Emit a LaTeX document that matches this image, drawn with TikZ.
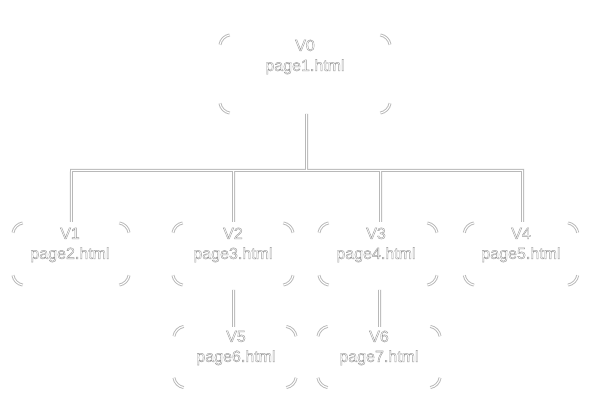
\documentclass[tikz,border=0pt]{standalone}
\usepackage{fontspec}
\setmainfont{Liberation Sans}
\newcommand\outl[1]{\special{pdf:code 1 Tr 0.3 w}#1\special{pdf:code 0 Tr}}
\tikzset{
  box/.style={minimum height=46.5pt, inner sep=0pt},
  lab/.style={align=center, font=\fontsize{12pt}{15pt}\selectfont, text=black!40, inner sep=0pt},
  lineout/.style={draw=black!28, line width=2.2pt},
  linein/.style={draw=white, line width=0.8pt},
  conout/.style={draw=black!28, line width=2.25pt},
  conin/.style={draw=white, line width=0.75pt},
}
\newcommand\corners[1]{%
  \foreach \s in {lineout,linein}{%
    \draw[\s] ([shift={(9pt,-9pt)}]#1.north west) ++(170:9pt) arc[start angle=170,end angle=100,radius=9pt];
    \draw[\s] ([shift={(-9pt,-9pt)}]#1.north east) ++(80:9pt) arc[start angle=80,end angle=10,radius=9pt];
    \draw[\s] ([shift={(-9pt,9pt)}]#1.south east) ++(-10:9pt) arc[start angle=-10,end angle=-80,radius=9pt];
    \draw[\s] ([shift={(9pt,9pt)}]#1.south west) ++(190:9pt) arc[start angle=190,end angle=260,radius=9pt];
  }%
}
\begin{document}
\begin{tikzpicture}[x=0.75pt,y=-0.75pt]
\useasboundingbox[fill=white] (0,0) rectangle (590,409);
\node[box, minimum width=127.5pt, minimum height=58.5pt] (root) at (305,74) {};
\node[box, minimum width=87pt] (v1) at (71,254) {};
\node[box, minimum width=90pt] (v2) at (233,254) {};
\node[box, minimum width=88.5pt] (v3) at (378,254) {};
\node[box, minimum width=85pt] (v4) at (521,254) {};
\node[box, minimum width=91.5pt, minimum height=45.75pt] (v5) at (235,357) {};
\node[box, minimum width=91.5pt, minimum height=45.75pt] (v6) at (379,357) {};
\node[lab] (troot) at (305,57) {\outl{V0}\\\outl{page1.html}};
\node[lab] (t1) at (70,245) {\outl{V1}\\\outl{page2.html}};
\node[lab] (t2) at (233,245) {\outl{V2}\\\outl{page3.html}};
\node[lab] (t3) at (376,245) {\outl{V3}\\\outl{page4.html}};
\node[lab] (t4) at (521,245) {\outl{V4}\\\outl{page5.html}};
\node[lab] (t5) at (236,348) {\outl{V5}\\\outl{page6.html}};
\node[lab] (t6) at (379,348) {\outl{V6}\\\outl{page7.html}};
\coordinate (rb) at (306.5,114);
\coordinate (junc) at (306.52,170.5);
\coordinate (b1) at (71.5,170.5);
\coordinate (b2) at (233.52,170.5);
\coordinate (b3) at (380.52,170.5);
\coordinate (b4) at (522.5,170.5);
\coordinate (e1) at (71.48,222);
\coordinate (e2) at (233.5,222);
\coordinate (e3) at (380.5,222);
\coordinate (e4) at (522.52,222);
\coordinate (s2) at (233.5,290);
\coordinate (n5) at (233.52,327);
\coordinate (s3) at (379.5,290);
\coordinate (n6) at (379.52,327);
\foreach \n in {root,v1,v2,v3,v4,v5,v6}{\corners{\n}}
\foreach \s in {conout,conin}{
  \draw[\s] (e1) -- (b1) -- (b4) -- (e4);
  \draw[\s] (rb) -- (junc);
  \draw[\s] (e2) -- (b2);
  \draw[\s] (e3) -- (b3);
  \draw[\s] (s2) -- (n5);
  \draw[\s] (s3) -- (n6);
}
\end{tikzpicture}
\end{document}
